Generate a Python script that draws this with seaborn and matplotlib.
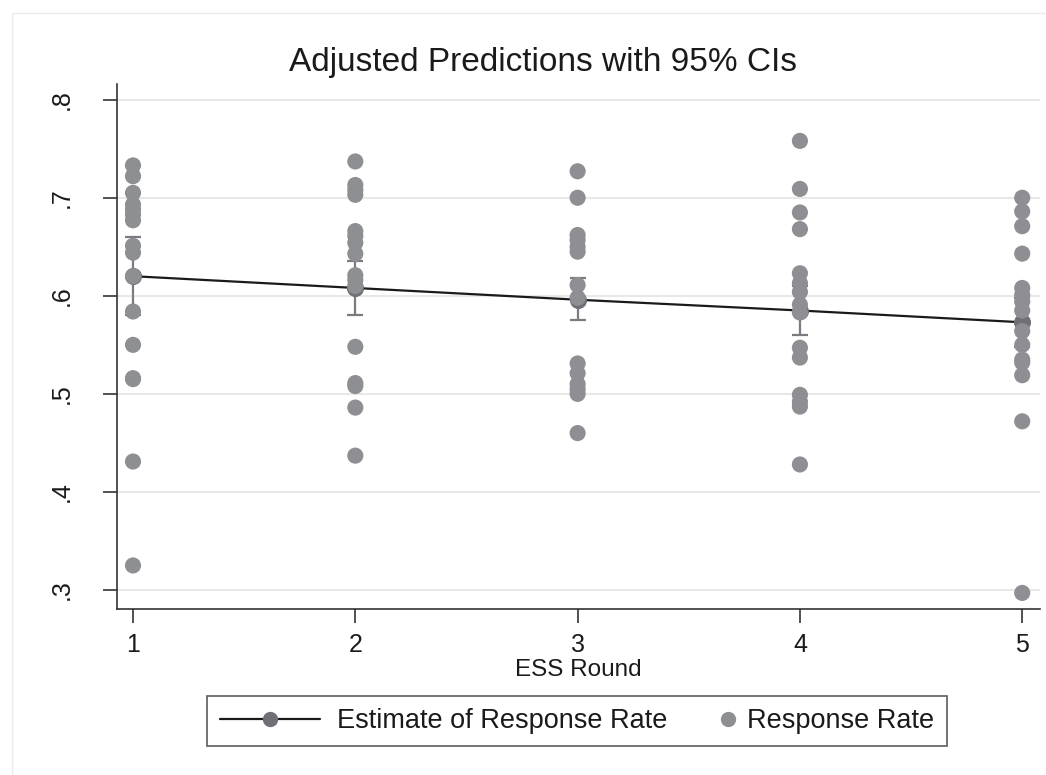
import numpy as np
import pandas as pd
import matplotlib
matplotlib.use("Agg")
import matplotlib.pyplot as plt
import seaborn as sns
from matplotlib.lines import Line2D
from matplotlib.patches import Rectangle
from matplotlib.ticker import FuncFormatter
from matplotlib.legend_handler import HandlerBase

rounds = [1, 2, 3, 4, 5]
rate_r1 = [0.733, 0.722, 0.705, 0.693, 0.688, 0.683, 0.677, 0.651, 0.644, 0.620, 0.584, 0.550, 0.516, 0.515, 0.431, 0.325]
rate_r2 = [0.737, 0.713, 0.708, 0.703, 0.666, 0.661, 0.654, 0.643, 0.621, 0.616, 0.610, 0.548, 0.511, 0.508, 0.486, 0.437]
rate_r3 = [0.727, 0.700, 0.662, 0.657, 0.650, 0.645, 0.611, 0.598, 0.531, 0.521, 0.510, 0.505, 0.500, 0.460]
rate_r4 = [0.758, 0.709, 0.685, 0.668, 0.623, 0.613, 0.604, 0.591, 0.583, 0.547, 0.537, 0.499, 0.492, 0.487, 0.428]
rate_r5 = [0.700, 0.686, 0.671, 0.643, 0.608, 0.601, 0.594, 0.585, 0.564, 0.550, 0.535, 0.532, 0.519, 0.472, 0.297]
estimate = [0.620, 0.608, 0.596, 0.585, 0.573]
ci_low = [0.580, 0.580, 0.575, 0.560, 0.548]
ci_high = [0.660, 0.636, 0.618, 0.610, 0.598]
yticks = [0.3, 0.4, 0.5, 0.6, 0.7, 0.8]

pts = pd.DataFrame({
    "round": sum([[r] * len(v) for r, v in zip(rounds, [rate_r1, rate_r2, rate_r3, rate_r4, rate_r5])], []),
    "rate": rate_r1 + rate_r2 + rate_r3 + rate_r4 + rate_r5,
})
est = pd.DataFrame({"round": rounds, "est": estimate, "lo": ci_low, "hi": ci_high})

sns.set_style("white")
plt.rcParams["font.family"] = ["Liberation Sans", "DejaVu Sans"]

fig = plt.figure(figsize=(10.46, 7.75), dpi=100)
fig.patch.set_facecolor("white")
fig.patches.append(Rectangle((12 / 1046, -0.01), 1.1, 1 - 13 / 775 + 0.01,
                             transform=fig.transFigure, fill=False,
                             edgecolor="#ebebeb", linewidth=1.0, zorder=0))
ax = fig.add_axes([117 / 1046, 1 - 609 / 775, (1040 - 117) / 1046, (609 - 84) / 775])
ax.set_facecolor("white")

pt_color = "#8e8f93"
est_color = "#6f7075"
text_color = "#1a1a1a"

# CI bars
ax.errorbar(est["round"], est["est"],
            yerr=[est["est"] - est["lo"], est["hi"] - est["est"]],
            fmt="none", ecolor="#7a7b80", elinewidth=1.6, capsize=6, capthick=1.6, zorder=2)
# estimate line
sns.lineplot(data=est, x="round", y="est", ax=ax, color=text_color, linewidth=1.6,
             marker="o", markersize=11.5, markerfacecolor=est_color,
             markeredgecolor=est_color, zorder=3, legend=False)
# observed points
sns.scatterplot(data=pts, x="round", y="rate", ax=ax, color=pt_color, s=135,
                edgecolor="none", linewidth=0, zorder=4, legend=False)

ax.set_xlim(0.928, 5.08)
ax.set_ylim(0.2806, 0.816)
ax.set_xticks(rounds)
ax.set_yticks(yticks)
ax.yaxis.set_major_formatter(FuncFormatter(lambda v, p: ("%.1f" % v).lstrip("0")))
ax.grid(axis="y", color="#e8e8e8", linewidth=1.5)
ax.grid(axis="x", visible=False)
for s in ["top", "right"]:
    ax.spines[s].set_visible(False)
for s in ["left", "bottom"]:
    ax.spines[s].set_color("#333333")
    ax.spines[s].set_linewidth(1.2)
ax.tick_params(axis="both", direction="out", length=10, width=1.2, color="#333333",
               labelsize=18, labelcolor=text_color, left=True, bottom=True)
ax.tick_params(axis="x", pad=7)
ax.tick_params(axis="y", pad=21)
for lab in ax.get_yticklabels():
    lab.set_rotation(90)
    lab.set_va("center")
ax.set_xlabel("ESS Round", fontsize=17.5, color=text_color, labelpad=2)
ax.set_ylabel("")

fig.text(543 / 1046, 1 - 63 / 775, "Adjusted Predictions with 95% CIs", ha="center", va="center",
         fontsize=24, color=text_color)


class LineMarkerHandler(HandlerBase):
    def create_artists(self, legend, orig_handle, xdescent, ydescent, width, height, fontsize, trans):
        y = height / 2 - ydescent
        line = Line2D([-xdescent, -xdescent + width], [y, y], color=text_color, linewidth=1.6, transform=trans)
        mk = Line2D([-xdescent + width / 2], [y], linestyle="none", marker="o", markersize=10,
                    markerfacecolor=est_color, markeredgecolor=est_color, transform=trans)
        return [line, mk]


class RightMarkerHandler(HandlerBase):
    def create_artists(self, legend, orig_handle, xdescent, ydescent, width, height, fontsize, trans):
        y = height / 2 - ydescent
        mk = Line2D([-xdescent + width - 1.5], [y], linestyle="none", marker="o", markersize=10,
                    markerfacecolor=pt_color, markeredgecolor=pt_color, transform=trans)
        return [mk]


h1 = Line2D([], [], color=text_color)
h2 = Line2D([], [], linestyle="none", marker="o")
leg = fig.legend([h1, h2], ["Estimate of Response Rate", "Response Rate"],
                 handler_map={h1: LineMarkerHandler(), h2: RightMarkerHandler()},
                 loc="center", bbox_to_anchor=(577 / 1046, 1 - 721 / 775), ncol=2,
                 fontsize=19.5, frameon=True, fancybox=False, edgecolor="#333333",
                 handlelength=3.7, columnspacing=-1.37, handletextpad=0.63,
                 borderpad=0.45, borderaxespad=0)
leg.get_frame().set_linewidth(1.2)
for t in leg.get_texts():
    t.set_color(text_color)

fig.savefig("out.png", dpi=100, facecolor="white")
